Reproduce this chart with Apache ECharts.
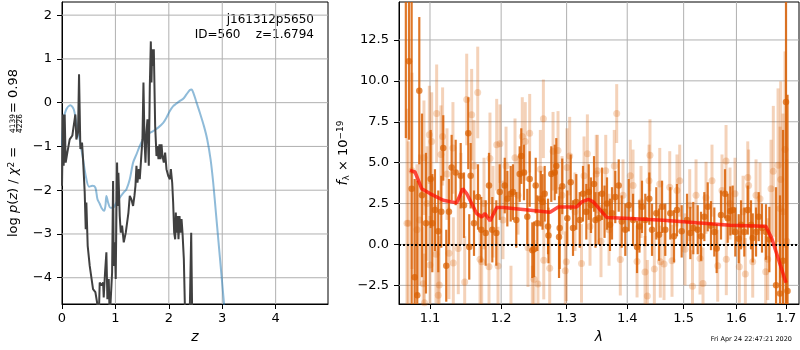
<!DOCTYPE html>
<html>
<head>
<meta charset="utf-8">
<script src="https://cdn.jsdelivr.net/npm/echarts@6/dist/echarts.min.js"></script>
<style>
  html, body { margin: 0; padding: 0; background: #fff; }
  #chart { width: 800px; height: 350px; }
</style>
</head>
<body>
<div id="chart"></div>
<script>
// left panel: log p(z) (black) and prior-like curve (blue)
var pzZ = [0.000,0.019,0.031,0.050,0.069,0.100,0.144,0.194,0.219,0.250,0.269,0.300,0.319,0.331,0.344,0.375,0.394,0.425,0.444,0.456,
  0.469,0.481,0.519,0.581,0.625,0.656,0.688,0.706,0.738,0.769,0.781,0.806,0.831,0.850,0.875,0.894,0.919,0.938,0.956,0.969,
  0.988,1.006,1.019,1.031,1.044,1.056,1.081,1.100,1.125,1.156,1.194,1.225,1.244,1.269,1.300,1.331,1.356,1.375,1.394,1.413,
  1.438,1.456,1.481,1.506,1.525,1.544,1.563,1.581,1.600,1.625,1.644,1.663,1.675,1.688,1.706,1.719,1.731,1.744,1.769,1.788,
  1.806,1.825,1.844,1.863,1.881,1.906,1.931,1.956,1.988,2.019,2.038,2.063,2.081,2.100,2.119,2.131,2.144,2.163,2.181,2.200,
  2.219,2.238,2.256,2.281,2.306,2.344,2.369,2.394,2.419,2.438,2.460];
var pzLog = [-1.90,-0.27,-1.44,-0.27,-1.37,-1.14,-0.84,-0.75,-0.53,-0.27,-0.84,-0.68,0.65,0.65,-1.06,-0.91,-1.29,-2.05,-2.89,-2.28,
  -2.28,-3.27,-3.73,-4.26,-4.33,-4.56,-4.94,-4.11,-4.18,-4.11,-4.45,-3.88,-3.42,-4.49,-4.03,-4.94,-4.94,-3.88,-1.79,-3.73,
  -3.19,-4.03,-2.51,-1.37,-2.36,-1.60,-2.59,-2.97,-2.81,-3.19,-2.97,-2.97,-2.51,-2.13,-2.21,-2.36,-2.13,-1.90,-1.44,-1.83,
  -1.52,-1.75,-1.29,-0.84,0.46,-0.84,-1.37,-0.68,-0.38,-1.44,0.38,1.40,0.46,1.22,0.84,1.22,0.38,-0.53,-1.22,-0.99,
  -1.29,-0.95,-1.29,-0.95,-1.22,-1.37,-1.14,-1.52,-1.67,-1.75,-1.52,-1.83,-2.28,-2.97,-3.12,-2.51,-2.97,-2.59,-3.12,-2.59,
  -2.97,-2.66,-2.97,-3.57,-4.94,-4.94,-4.71,-4.64,-2.97,-4.94,-7.00];

var priorZ = [0.000,0.031,0.081,0.156,0.219,0.269,0.331,0.394,0.444,0.506,0.569,0.625,0.663,0.706,0.738,0.788,0.813,0.831,0.863,0.906,
  0.956,1.019,1.081,1.156,1.206,1.269,1.331,1.394,1.456,1.519,1.613,1.706,1.800,1.894,1.956,2.019,2.081,2.144,2.206,2.269,
  2.331,2.394,2.425,2.469,2.519,2.581,2.656,2.719,2.781,2.831,2.881,2.931,2.981,3.031,3.080];
var priorLog = [-1.00,-0.38,-0.15,-0.06,-0.15,-0.46,-0.84,-1.29,-1.67,-1.92,-1.90,-1.94,-2.20,-2.31,-2.40,-2.47,-2.36,-2.13,-2.28,-2.40,
  -2.40,-2.28,-2.17,-2.05,-1.98,-1.75,-1.37,-1.18,-0.99,-0.84,-0.72,-0.65,-0.57,-0.46,-0.34,-0.19,-0.08,-0.02,0.04,0.09,
  0.19,0.29,0.30,0.19,0.00,-0.23,-0.53,-0.84,-1.29,-1.83,-2.51,-3.19,-3.88,-4.56,-5.30];

// right panel: spectrum points (dark = good, light = flagged), model line
var darkLam = [1.0680,1.0721,1.0756,1.0796,1.0830,1.0857,1.0893,1.0946,1.1009,1.1031,1.1067,1.1112,1.1153,1.1180,1.1221,1.1258,1.1295,1.1351,1.1421,1.1467,
  1.1527,1.1541,1.1561,1.1608,1.1665,1.1712,1.1775,1.1823,1.1871,1.1929,
  1.1979,1.2053,1.2091,1.2141,1.2175,1.2224,1.2275,1.2299,1.2340,1.2390,1.2426,1.2466,1.2492,1.2518,1.2543,1.2595,1.2623,1.2656,1.2708,1.2715,
  1.2759,1.2812,1.2837,1.2880,1.2890,1.2931,1.3011,1.3065,1.3102,1.3155,1.3210,1.3263,1.3317,1.3356,1.3393,1.3443,1.3467,
  1.3520,1.3575,1.3617,1.3658,1.3708,1.3742,1.3797,1.3855,1.3906,1.3967,1.4026,1.4100,1.4169,1.4211,1.4255,1.4313,1.4383,1.4431,1.4507,1.4555,
  1.4609,1.4667,1.4757,1.4824,1.4878,1.4964,1.5062,1.5123,1.5178,
  1.5260,1.5322,1.5384,1.5448,1.5510,1.5573,1.5618,1.5701,1.5778,1.5830,1.5881,1.5927,1.5978,1.6045,1.6090,1.6155,1.6223,1.6288,1.6322,1.6388,
  1.6442,1.6508,1.6589,1.6657,1.6794,1.6876,1.6938,1.7000,1.7031];
var darkFlux = [16.0,11.2,3.4,-2.0,-3.1,9.4,3.0,1.3,4.0,1.3,2.1,0.8,2.0,5.9,-1.3,2.0,4.7,4.4,4.2,2.4,
  6.8,-0.15,4.2,1.3,2.9,0.9,0.7,3.6,0.9,0.7,
  3.2,3.6,2.8,3.1,3.2,1.5,4.3,5.4,4.4,1.7,4.0,-0.35,-0.3,3.6,1.3,2.8,2.6,3.1,1.1,0.55,
  4.3,4.4,4.8,0.45,1.0,3.55,1.6,3.8,1.0,2.6,1.5,3.1,2.0,3.2,2.4,3.7,1.5,
  1.6,3.1,2.0,2.5,1.2,1.9,2.9,3.6,1.4,0.9,2.4,1.5,-0.15,1.1,2.3,1.5,2.8,0.9,1.9,0.6,
  2.3,0.9,1.9,0.5,2.1,0.8,1.5,0.7,1.0,
  0.9,0.5,1.7,2.3,1.15,0.76,-0.25,1.8,3.1,1.6,2.05,2.1,0.76,0.35,1.2,0.76,2.1,1.2,0.4,0.76,
  1.7,1.0,0.76,0.3,-2.5,-3.0,-1.0,8.7,-2.85];
var darkErr = [9.5,4.8,12,6,7,4.5,5,4.3,3,3,2.5,2.5,2.2,2.0,2.2,2.0,2.0,2.0,2.0,2.0,
  2.2,2.0,2.0,2.0,2.0,2.0,2.0,2.0,2.0,2.0,
  1.7,1.7,1.7,1.7,1.7,1.7,1.7,1.7,1.7,1.7,1.7,1.7,1.7,1.7,1.7,1.7,1.7,1.7,1.7,1.7,
  1.7,1.7,1.7,2.5,2.5,1.7,1.7,1.7,1.7,1.7,1.7,1.7,1.7,1.7,1.7,1.7,1.7,
  1.6,1.6,1.6,1.6,1.6,1.6,1.6,1.6,1.6,1.6,1.6,1.6,1.6,1.6,1.6,1.6,1.6,1.6,1.6,1.6,
  1.6,1.6,1.6,1.6,1.6,1.6,1.6,1.6,1.6,
  1.5,1.5,1.5,1.5,1.5,1.5,1.5,1.5,1.5,1.5,1.5,1.5,1.5,1.5,1.5,1.5,1.5,1.5,1.5,1.5,
  1.5,1.5,1.7,2.0,6,6,8,15,12];

var lightLam = [1.0695,1.0712,1.0761,1.0826,1.0862,1.0910,1.0919,1.0926,1.0960,1.0991,1.1000,1.1023,1.1081,1.1090,1.1112,1.1125,1.1148,1.1171,1.1231,1.1258,
  1.1313,1.1318,1.1387,1.1425,1.1477,1.1505,1.1575,1.1608,1.1661,1.1694,1.1718,1.1751,1.1823,1.1837,1.1881,1.1935,
  1.1954,1.1983,1.2027,1.2072,1.2145,1.2205,1.2250,1.2314,1.2359,1.2400,1.2426,1.2466,1.2492,1.2553,1.2589,1.2636,1.2642,1.2734,1.2786,1.2864,
  1.2927,1.2979,1.2995,1.3006,1.3049,1.3134,1.3239,1.3280,1.3334,1.3377,1.3480,
  1.3500,1.3558,1.3637,1.3692,1.3780,1.3821,1.3882,1.3928,1.4053,1.4100,1.4169,1.4238,1.4308,1.4348,1.4395,1.4378,1.4472,1.4568,1.4578,1.4644,
  1.4747,1.4788,1.4878,1.4928,1.5025,1.5112,1.5163,
  1.5229,1.5303,1.5359,1.5416,1.5529,1.5638,1.5720,1.5798,1.5803,1.5875,1.5972,1.6056,1.6130,1.6175,1.6223,1.6240,1.6322,1.6388,1.6468,1.6583,
  1.6624,1.6691,1.6738,1.6835,1.6876,1.6890,1.6938,1.6979,1.7014];
var lightFlux = [1.3,1.3,4.5,0.9,1.5,-2.4,5.3,-3.56,2.5,6.7,-1.26,6.3,-0.6,8.0,-3.1,-2.48,5.5,6.6,4.3,-0.54,
  5.9,-1.14,-0.24,2.8,-2.3,8.86,7.93,4.8,9.29,-0.9,-1.06,2.5,-1.37,5.26,2.0,6.1,
  -1.32,6.16,1.5,4.8,-3.7,5.3,3.0,6.6,6.3,-0.2,6.8,-3.7,-2.13,-2.42,4.6,7.68,-0.96,-1.46,5.7,5.75,
  3.0,-1.6,-1.06,4.7,5.4,2.0,-1.16,4.2,5.55,1.1,4.3,
  4.5,0.2,4.5,0.9,4.8,8.0,-0.92,3.0,4.2,3.6,-1.04,2.6,-1.68,-3.15,5.45,3.9,-1.5,3.7,-1.05,-1.2,
  3.5,-1.0,3.3,3.9,-0.3,2.4,-2.55,
  3.0,-0.86,-2.38,2.85,3.9,-1.3,3.3,5.1,-0.9,2.5,3.1,-1.37,2.0,-1.81,4.1,3.6,-1.05,3.0,2.8,-1.67,
  -0.9,3.4,4.47,4.84,2.2,3.97,2.0,5.8,0.2];
var lightErr = [7,5,6,4,4,3.5,3.5,3,3.5,3,3,3,3,3,3,3,3,3,2.8,2.8,
  2.8,2.8,2.8,2.8,2.8,2.8,2.8,2.8,2.8,2.8,2.8,2.8,2.8,2.8,2.8,2.8,
  2.4,2.4,2.4,2.4,2.4,2.4,2.4,2.4,2.4,2.4,2.4,2.4,2.4,2.4,2.4,2.4,2.4,2.4,2.4,2.4,
  2.4,2.4,2.4,2.4,2.4,2.4,2.4,2.4,2.4,2.4,2.4,
  2.2,2.2,2.2,2.2,2.2,1.8,2.2,2.2,2.2,2.2,2.2,2.2,2.2,2.2,2.2,2.2,2.2,2.2,2.2,2.2,
  2.2,2.2,2.2,2.2,2.2,2.2,2.2,
  2.2,2.2,2.2,2.2,2.2,2.2,2.2,2.2,2.2,2.2,2.2,2.2,2.2,2.2,2.2,2.2,2.2,2.2,2.2,2.2,
  2.5,3,4,4.7,5,6,6,6,5];

var modelLam = [1.0734,1.0800,1.0889,1.1000,1.1180,1.1365,1.1449,1.1505,1.1646,1.1718,1.1765,1.1837,1.1935,1.2031,1.2739,1.2868,1.2974,1.3161,1.3242,1.3349,
  1.3431,1.3653,1.4048,1.4631,1.5241,1.5875,1.6583,1.6706,1.7000];
var modelFlux = [4.53,4.43,3.41,3.11,2.70,2.54,3.41,3.11,1.89,1.68,1.89,1.44,2.26,2.26,1.97,2.29,2.29,2.29,2.60,2.76,
  2.60,1.65,1.59,1.48,1.32,1.18,1.12,0.37,-2.34];

// tick labels
var zTicks = [0, 1, 2, 3, 4];
var logpTicks = [-4, -3, -2, -1, 0, 1, 2];
var lamTicks = [1.1, 1.2, 1.3, 1.4, 1.5, 1.6, 1.7];
var fluxTicks = [-2.5, 0, 2.5, 5, 7.5, 10, 12.5];

var FONT = 'DejaVu Sans';
var GRID_COLOR = '#b0b0b0';

var Z_MIN = 0, Z_MAX = 4.98, LOGP_MIN = -4.6, LOGP_MAX = 2.3;
var LAM_MIN = Math.log(1.0591), LAM_MAX = Math.log(1.7272), F_MIN = -3.64, F_MAX = 14.82;

function minus(s) { return String(s).replace('-', '\u2212'); }

function zip(a, b) {
  return a.map(function (v, i) { return [v, b[i]]; });
}

function specData(lam, flux) {
  return lam.map(function (l, i) { return [Math.log(l), flux[i]]; });
}

// vertical error bars drawn through the axes
function errBars(lam, flux, err, color, width) {
  return {
    type: 'custom',
    xAxisIndex: 1,
    yAxisIndex: 1,
    silent: true,
    clip: true,
    encode: { x: 0, y: 1 },
    data: lam.map(function (l, i) { return [Math.log(l), flux[i], err[i]]; }),
    renderItem: function (params, api) {
      var cs = params.coordSys;
      var lo = api.coord([api.value(0), api.value(1) - api.value(2)]);
      var hi = api.coord([api.value(0), api.value(1) + api.value(2)]);
      var top = cs.y, bot = cs.y + cs.height;
      var y1 = Math.max(top, Math.min(bot, lo[1]));
      var y2 = Math.max(top, Math.min(bot, hi[1]));
      return {
        type: 'line',
        shape: { x1: lo[0], y1: y1, x2: hi[0], y2: y2 },
        style: { stroke: color, lineWidth: width }
      };
    }
  };
}

// grid lines at the tick values (flag 0 = vertical, 1 = horizontal)
function gridLines(axisIdx, xs, ys, xMin, yMin) {
  var data = xs.map(function (v) { return [v, yMin, 0]; })
    .concat(ys.map(function (v) { return [xMin, v, 1]; }));
  return {
    type: 'custom', xAxisIndex: axisIdx, yAxisIndex: axisIdx, silent: true, z: 1,
    encode: { x: 0, y: 1 },
    data: data,
    renderItem: function (params, api) {
      var cs = params.coordSys;
      var p = api.coord([api.value(0), api.value(1)]);
      var shape = api.value(2) === 0
        ? { x1: p[0], y1: cs.y, x2: p[0], y2: cs.y + cs.height }
        : { x1: cs.x, y1: p[1], x2: cs.x + cs.width, y2: p[1] };
      return { type: 'line', shape: shape, style: { stroke: GRID_COLOR, lineWidth: 1 } };
    }
  };
}

var axisLineCfg = { show: true, onZero: false, lineStyle: { color: '#000', width: 1 } };
function tickCfg(vals) {
  return { show: true, inside: false, length: 5, lineStyle: { color: '#000', width: 1 }, customValues: vals };
}

var chart = echarts.init(document.getElementById('chart'));

var option = {
  animation: false,
  backgroundColor: '#fff',
  textStyle: { fontFamily: FONT },
  grid: [
    { left: 62, top: 2, width: 266, height: 302, show: true, borderColor: '#000', borderWidth: 1, backgroundColor: 'transparent' },
    { left: 399, top: 2, width: 400, height: 302, show: true, borderColor: '#000', borderWidth: 1, backgroundColor: 'transparent' }
  ],
  xAxis: [
    {
      gridIndex: 0, type: 'value', min: Z_MIN, max: Z_MAX,
      axisLine: axisLineCfg, axisTick: tickCfg(zTicks), splitLine: { show: false },
      axisLabel: { color: '#000', fontSize: 13, fontFamily: FONT, margin: 8, customValues: zTicks },
      name: 'z', nameLocation: 'middle', nameGap: 26,
      nameTextStyle: { fontSize: 14, fontStyle: 'italic', color: '#000', fontFamily: FONT }
    },
    {
      gridIndex: 1, type: 'value', min: LAM_MIN, max: LAM_MAX,
      axisLine: axisLineCfg, axisTick: tickCfg(lamTicks.map(Math.log)), splitLine: { show: false },
      axisLabel: { color: '#000', fontSize: 13, fontFamily: FONT, margin: 8,
        customValues: lamTicks.map(Math.log),
        formatter: function (v) { return Math.exp(v).toFixed(1); } },
      name: 'λ', nameLocation: 'middle', nameGap: 26,
      nameTextStyle: { fontSize: 14, fontStyle: 'italic', color: '#000', fontFamily: FONT }
    }
  ],
  yAxis: [
    {
      gridIndex: 0, type: 'value', min: LOGP_MIN, max: LOGP_MAX,
      axisLine: axisLineCfg, axisTick: tickCfg(logpTicks), splitLine: { show: false },
      axisLabel: { color: '#000', fontSize: 13, fontFamily: FONT, margin: 10,
        customValues: logpTicks, formatter: function (v) { return minus(v); } }
    },
    {
      gridIndex: 1, type: 'value', min: F_MIN, max: F_MAX,
      axisLine: axisLineCfg, axisTick: tickCfg(fluxTicks), splitLine: { show: false },
      axisLabel: { color: '#000', fontSize: 13, fontFamily: FONT, margin: 10,
        customValues: fluxTicks, formatter: function (v) { return minus(v.toFixed(1)); } },
      name: '{i|f}{sub|λ}{n| × 10}{sup|−19}', nameLocation: 'middle', nameGap: 48,
      nameTextStyle: {
        color: '#000', fontFamily: FONT, fontSize: 13,
        rich: {
          i: { fontStyle: 'italic', fontSize: 14, fontFamily: FONT, color: '#000' },
          sub: { fontSize: 9, fontFamily: FONT, color: '#000', verticalAlign: 'bottom', padding: [6, 0, 0, 0] },
          n: { fontSize: 13, fontFamily: FONT, color: '#000' },
          sup: { fontSize: 9, fontFamily: FONT, color: '#000', verticalAlign: 'top', padding: [0, 0, 6, 0] }
        }
      }
    }
  ],
  series: [
    gridLines(0, zTicks.slice(1), logpTicks, Z_MIN, LOGP_MIN),
    gridLines(1, lamTicks.map(Math.log), fluxTicks, LAM_MIN, F_MIN),
    {
      name: 'prior', type: 'line', xAxisIndex: 0, yAxisIndex: 0,
      data: zip(priorZ, priorLog), showSymbol: false, symbol: 'none', smooth: 0.3,
      lineStyle: { color: 'rgba(31,119,180,0.5)', width: 2 }, z: 2
    },
    {
      name: 'log p(z)', type: 'line', xAxisIndex: 0, yAxisIndex: 0,
      data: zip(pzZ, pzLog), showSymbol: false, symbol: 'none',
      lineStyle: { color: '#404040', width: 2 }, z: 3
    },
    Object.assign(errBars(lightLam, lightFlux, lightErr, 'rgba(217,95,2,0.28)', 3), { z: 2 }),
    {
      name: 'flagged', type: 'scatter', xAxisIndex: 1, yAxisIndex: 1,
      data: specData(lightLam, lightFlux), symbolSize: 7, silent: true,
      itemStyle: { color: 'rgba(217,95,2,0.3)' }, z: 3
    },
    Object.assign(errBars(darkLam, darkFlux, darkErr, 'rgba(217,95,2,0.85)', 2.2), { z: 4 }),
    {
      name: 'spectrum', type: 'scatter', xAxisIndex: 1, yAxisIndex: 1,
      data: specData(darkLam, darkFlux), symbolSize: 6.5, silent: true,
      itemStyle: { color: 'rgba(217,95,2,0.9)' }, z: 5
    },
    {
      name: 'model', type: 'line', xAxisIndex: 1, yAxisIndex: 1,
      data: specData(modelLam, modelFlux), showSymbol: false, symbol: 'none',
      lineStyle: { color: 'rgba(255,10,0,0.72)', width: 3.5 }, z: 6,
      markLine: {
        silent: true, symbol: 'none', label: { show: false },
        lineStyle: { color: '#000', type: 'dotted', width: 2 },
        data: [{ yAxis: 0 }]
      }
    }
  ],
  graphic: [
    {
      type: 'text', x: 14, y: 237, rotation: Math.PI / 2, silent: true,
      style: {
        text: '{n|log }{i|p}{n|(}{i|z}{n|) / }{i|χ}{sup|2}{n| =}',
        align: 'left', verticalAlign: 'middle', textAlign: 'left', textVerticalAlign: 'middle',
        fill: '#000',
        rich: {
          n: { fontSize: 13, fontFamily: FONT, color: '#000' },
          i: { fontSize: 13, fontFamily: FONT, fontStyle: 'italic', color: '#000' },
          sup: { fontSize: 9, fontFamily: FONT, color: '#000', verticalAlign: 'top' }
        }
      }
    },
    {
      type: 'text', x: 13.5, y: 123.5, rotation: Math.PI / 2, silent: true,
      style: { text: '4139', fontSize: 7.5, fontFamily: FONT, fill: '#000',
        align: 'center', verticalAlign: 'middle', textAlign: 'center', textVerticalAlign: 'middle' }
    },
    {
      type: 'line', silent: true,
      shape: { x1: 16.7, y1: 115, x2: 16.7, y2: 132 },
      style: { stroke: '#000', lineWidth: 0.8 }
    },
    {
      type: 'text', x: 20, y: 123.5, rotation: Math.PI / 2, silent: true,
      style: { text: '4226', fontSize: 7.5, fontFamily: FONT, fill: '#000',
        align: 'center', verticalAlign: 'middle', textAlign: 'center', textVerticalAlign: 'middle' }
    },
    {
      type: 'text', x: 14, y: 113, rotation: Math.PI / 2, silent: true,
      style: { text: '= 0.98', fontSize: 13, fontFamily: FONT, fill: '#000',
        align: 'left', verticalAlign: 'middle', textAlign: 'left', textVerticalAlign: 'middle' }
    },
    {
      type: 'text', x: 314, y: 20, silent: true,
      style: { text: 'j161312p5650', fontSize: 12, fontFamily: FONT, fill: '#000',
        align: 'right', verticalAlign: 'middle', textAlign: 'right', textVerticalAlign: 'middle' }
    },
    {
      type: 'text', x: 314, y: 35, silent: true,
      style: { text: 'ID=560    z=1.6794', fontSize: 12, fontFamily: FONT, fill: '#000',
        align: 'right', verticalAlign: 'middle', textAlign: 'right', textVerticalAlign: 'middle' }
    },
    {
      type: 'text', x: 792, y: 339, silent: true,
      style: { text: 'Fri Apr 24 22:47:21 2020', fontSize: 6.5, fontFamily: FONT, fill: '#000',
        align: 'right', verticalAlign: 'middle', textAlign: 'right', textVerticalAlign: 'middle' }
    }
  ]
};

chart.setOption(option);
</script>
</body>
</html>
